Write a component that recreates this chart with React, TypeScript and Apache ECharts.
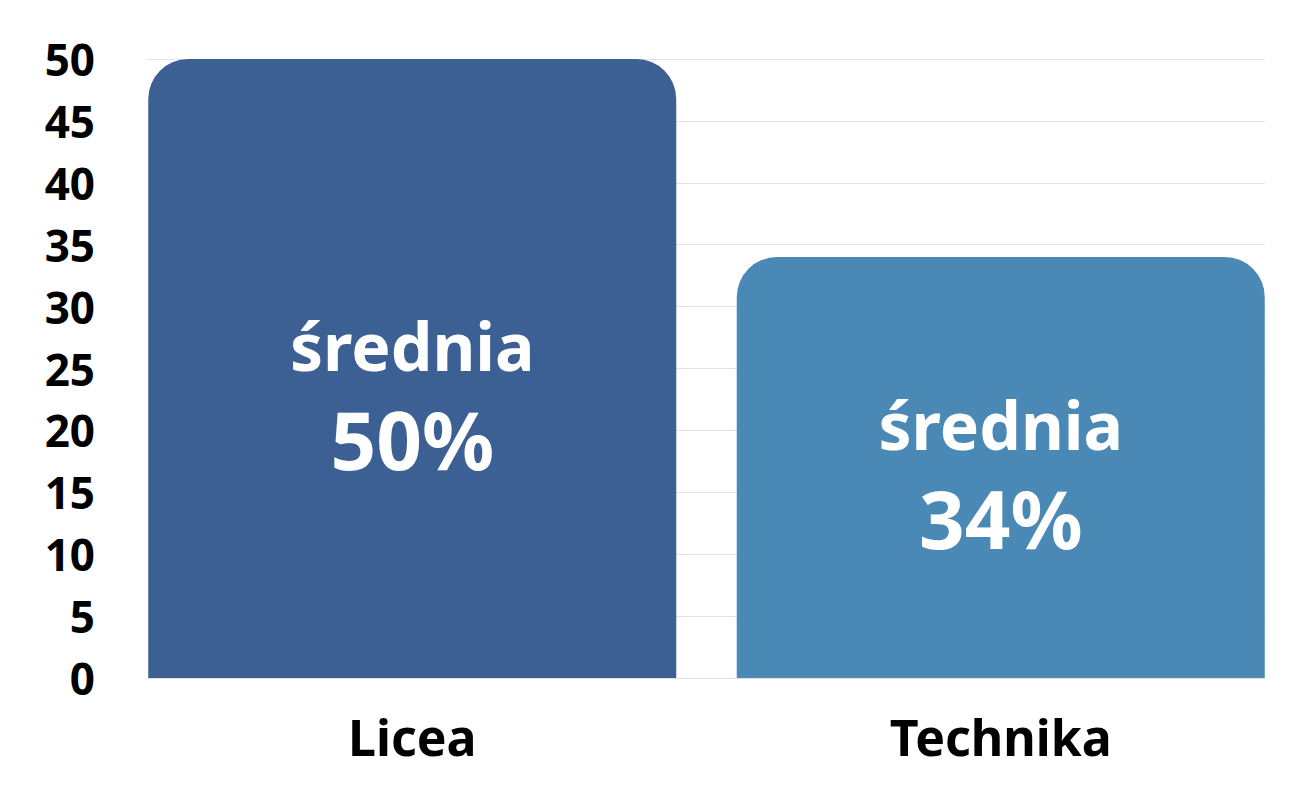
import { useEffect, useRef } from 'react'
import * as echarts from 'echarts'

// ─── data ───
const categories = ['Licea', 'Technika']
const values = [50, 34]
const barColors = ['#3c5f94', '#4a89b5']
const innerCaption = 'średnia'

const FONT = '"Noto Sans", "DejaVu Sans", sans-serif'
// vertical nudge of the text block inside each bar
const LABEL_SHIFT = [28, 8]

export default function App() {
  const ref = useRef<HTMLDivElement>(null)

  useEffect(() => {
    if (!ref.current) return
    const chart = echarts.init(ref.current, undefined, { renderer: 'svg' })

    chart.setOption({
      animation: false,
      // grid 0: y axis labels + split lines; grid 1: the bars themselves
      grid: [
        { left: 148, right: 33, top: 59, bottom: 114 },
        { left: 118, right: 3, top: 59, bottom: 114 },
      ],
      xAxis: [
        { gridIndex: 0, type: 'value', min: 0, max: 1, show: false },
        {
          gridIndex: 1,
          type: 'category',
          data: categories,
          axisLine: { show: false },
          axisTick: { show: false },
          axisLabel: {
            margin: 34,
            color: '#000',
            fontFamily: FONT,
            fontWeight: 'bold',
            fontSize: 50,
          },
        },
      ],
      yAxis: [
        {
          gridIndex: 0,
          type: 'value',
          min: 0,
          max: 50,
          interval: 5,
          axisLine: { show: false },
          axisTick: { show: false },
          axisLabel: {
            margin: 53,
            color: '#000',
            fontFamily: FONT,
            fontWeight: 'bold',
            fontSize: 44,
          },
          splitLine: { lineStyle: { color: '#e2e2e2', width: 1 } },
        },
        { gridIndex: 1, type: 'value', min: 0, max: 50, show: false },
      ],
      series: [
        {
          type: 'bar',
          xAxisIndex: 1,
          yAxisIndex: 1,
          barWidth: 528,
          data: values.map((v, i) => ({
            value: v,
            itemStyle: { color: barColors[i], borderRadius: [40, 40, 0, 0] },
            label: { offset: [0, LABEL_SHIFT[i]] },
          })),
          label: {
            show: true,
            position: 'inside',
            formatter: (p: any) => `{a|${innerCaption}}\n{b|${p.value}%}`,
            rich: {
              a: {
                color: '#fff',
                fontFamily: FONT,
                fontWeight: 'bold',
                fontSize: 66,
                lineHeight: 84,
              },
              b: {
                color: '#fff',
                fontFamily: FONT,
                fontWeight: 'bold',
                fontSize: 80,
                lineHeight: 104,
              },
            },
          },
        },
      ],
    })

    return () => chart.dispose()
  }, [])

  return <div ref={ref} style={{ width: 1298, height: 792, margin: -8 }} />
}
